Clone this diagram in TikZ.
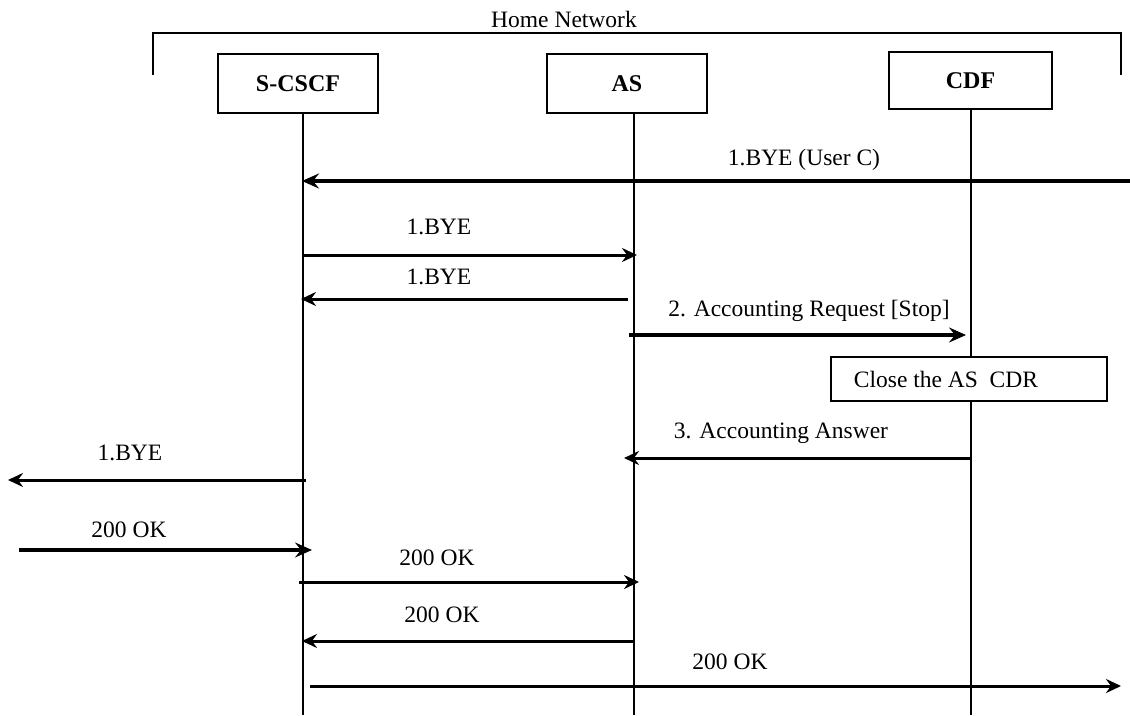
\documentclass[tikz,border=0pt]{standalone}
\usepackage{fontspec}
\setmainfont{Liberation Serif}
\usetikzlibrary{arrows.meta}
\begin{document}
\begin{tikzpicture}[x=1pt,y=-1pt,
  ent/.style={draw,line width=2.2pt,font=\fontsize{24}{28}\selectfont\bfseries,inner sep=0pt},
  life/.style={line width=2.2pt},
  msg/.style={line width=3pt,-{Stealth[length=15pt,width=14pt,inset=5pt]}},
  bmsg/.style={line width=4.6pt,-{Stealth[length=17pt,width=15pt,inset=6pt]}},
  lbl/.style={font=\fontsize{23.5}{27}\selectfont,inner sep=0pt},
  note/.style={draw,fill=white,line width=2.2pt,inner sep=0pt}]
\useasboundingbox (0,0) rectangle (1130,715);
% Home network bracket
\coordinate (hl) at (153,75);
\coordinate (hr) at (1121,75);
\draw[line width=2.2pt] (hl) -- (153,33) -- (1121,33) -- (hr);
\node[lbl] (home) at (564,19) {Home Network};
% entities
\node[ent,minimum width=160pt,minimum height=59pt] (scscf) at (298,83.5) {S-CSCF};
\node[ent,minimum width=160pt,minimum height=59pt] (as) at (627,83.5) {AS};
\node[ent,minimum width=163pt,minimum height=57pt] (cdf) at (970.5,80.5) {CDF};
% lifelines
\coordinate (sT) at (303,113); \coordinate (sB) at (303,715);
\coordinate (aT) at (634,113); \coordinate (aB) at (634,715);
\coordinate (cT) at (971,109); \coordinate (cB) at (971,715);
\draw[life] (sT) -- (sB);
\draw[life] (aT) -- (aB);
\draw[life] (cT) -- (cB);
% note box
\node[note,minimum width=276pt,minimum height=44pt] (close) at (969,379) {};
\node[lbl] (closet) at (946,379) {Close the AS\ \ CDR};
% messages
\coordinate (m1a) at (1130,181); \coordinate (m1b) at (302,181);
\draw[bmsg] (m1a) -- (m1b);
\node[lbl] (l1) at (804,160) {1.BYE (User C)};

\coordinate (m2a) at (303,255); \coordinate (m2b) at (637,255);
\draw[msg] (m2a) -- (m2b);
\node[lbl] (l2) at (439,227) {1.BYE};

\coordinate (m3a) at (628,299); \coordinate (m3b) at (301,299);
\draw[msg] (m3a) -- (m3b);
\node[lbl] (l3) at (439,277) {1.BYE};

\coordinate (m4a) at (629,335); \coordinate (m4b) at (966,335);
\draw[bmsg] (m4a) -- (m4b);
\node[lbl] (l4) at (809,311) {2. Accounting Request [Stop]};

\coordinate (m5a) at (971,458); \coordinate (m5b) at (624,458);
\draw[msg] (m5a) -- (m5b);
\node[lbl] (l5) at (781,433) {3. Accounting Answer};

\coordinate (m6a) at (306,480); \coordinate (m6b) at (8,480);
\draw[msg] (m6a) -- (m6b);
\node[lbl] (l6) at (130,453) {1.BYE};

\coordinate (m7a) at (19,550); \coordinate (m7b) at (312,550);
\draw[bmsg] (m7a) -- (m7b);
\node[lbl] (l7) at (129,530) {200 OK};

\coordinate (m8a) at (299,582); \coordinate (m8b) at (639,582);
\draw[msg] (m8a) -- (m8b);
\node[lbl] (l8) at (437,558) {200 OK};

\coordinate (m9a) at (633,641); \coordinate (m9b) at (302,641);
\draw[msg] (m9a) -- (m9b);
\node[lbl] (l9) at (442,615) {200 OK};

\coordinate (m10a) at (310,686); \coordinate (m10b) at (1121,686);
\draw[msg] (m10a) -- (m10b);
\node[lbl] (l10) at (730,662) {200 OK};
\end{tikzpicture}
\end{document}
